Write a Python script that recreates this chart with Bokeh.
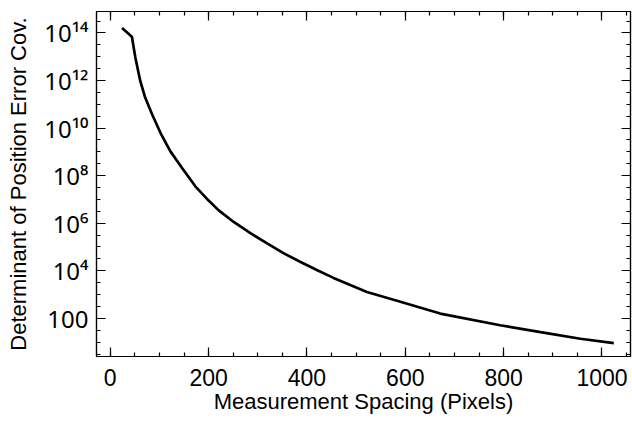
from bokeh.plotting import figure
from bokeh.models import FixedTicker, LinearAxis, LogAxis, Range1d
from bokeh.embed import file_html
from bokeh.resources import INLINE

# Curve
spacing = [24, 44, 51, 61, 71, 85, 102, 122, 146, 173, 200, 220, 251, 285, 319, 353, 386,
           420, 454, 488, 522, 590, 671, 793, 875, 956, 1024]
log_det = [14.21, 13.84, 12.97, 11.98, 11.28, 10.58, 9.80, 9.03, 8.32, 7.55, 6.95, 6.55, 6.05,
           5.58, 5.15, 4.73, 4.38, 4.03, 3.70, 3.40, 3.11, 2.70, 2.20, 1.71, 1.42, 1.14, 0.96]
det = [10 ** v for v in log_det]

x_major = [0, 200, 400, 600, 800, 1000]
x_minor = list(range(0, 1051, 50))
y_exps = [2, 4, 6, 8, 10, 12, 14]
y_major = [10.0 ** e for e in y_exps]
y_minor = [10.0 ** (k / 2) for k in range(1, 30)]
SUP = str.maketrans("0123456789", "⁰¹²³⁴⁵⁶⁷⁸⁹")
y_labels = {10.0 ** e: ("100" if e == 2 else "10" + str(e).translate(SUP)) for e in y_exps}

FONT = "Liberation Sans"
X0, X1 = -28, 1058

p = figure(width=632, height=421, output_backend="svg", toolbar_location=None,
           y_axis_type="log", x_axis_location=None, y_axis_location=None,
           x_range=Range1d(X0, X1), y_range=Range1d(10 ** 0.395, 10 ** 14.9),
           min_border_left=96, min_border_right=2, min_border_top=11, min_border_bottom=65)
p.grid.visible = False
p.background_fill_color = "white"
p.border_fill_color = "white"
p.outline_line_color = "black"
p.outline_line_width = 1.2

p.line(spacing, det, line_color="black", line_width=2.7)

xt = FixedTicker(ticks=x_major, minor_ticks=x_minor)
yt = FixedTicker(ticks=y_major, minor_ticks=y_minor)

bottom = LinearAxis(ticker=xt, axis_label="Measurement Spacing (Pixels)")
left = LogAxis(ticker=yt, axis_label="Determinant of Position Error Cov.",
               major_label_overrides=y_labels)
top = LinearAxis(ticker=xt, major_label_overrides={v: "" for v in x_major})
right = LogAxis(ticker=yt, major_label_overrides={v: "" for v in y_major})
p.add_layout(bottom, "below")
p.add_layout(left, "left")
p.add_layout(top, "above")
p.add_layout(right, "right")

for ax in [bottom, left, top, right]:
    ax.axis_line_color = "black"
    ax.axis_line_width = 1.2
    ax.major_tick_in = 9
    ax.major_tick_out = 0
    ax.minor_tick_in = 4
    ax.minor_tick_out = 0
    ax.major_tick_line_color = "black"
    ax.minor_tick_line_color = "black"
    ax.major_tick_line_width = 1.2
    ax.minor_tick_line_width = 1.2
    ax.major_label_text_font = FONT
    ax.major_label_text_color = "black"
    ax.axis_label_text_font = FONT
    ax.axis_label_text_font_style = "normal"
    ax.axis_label_text_color = "black"
    ax.axis_label_text_font_size = "22px"

for ax in [top, right]:
    ax.major_label_text_font_size = "1px"
    ax.major_label_standoff = 0

left.major_label_text_font = "Noto Sans"
left.major_label_text_font_size = "24px"
left.major_label_standoff = 8
left.axis_label_standoff = 10

bottom.major_label_text_font_size = "23px"
bottom.major_label_standoff = 12
bottom.axis_label_standoff = 0

open("out.html", "w").write(file_html(p, INLINE))
